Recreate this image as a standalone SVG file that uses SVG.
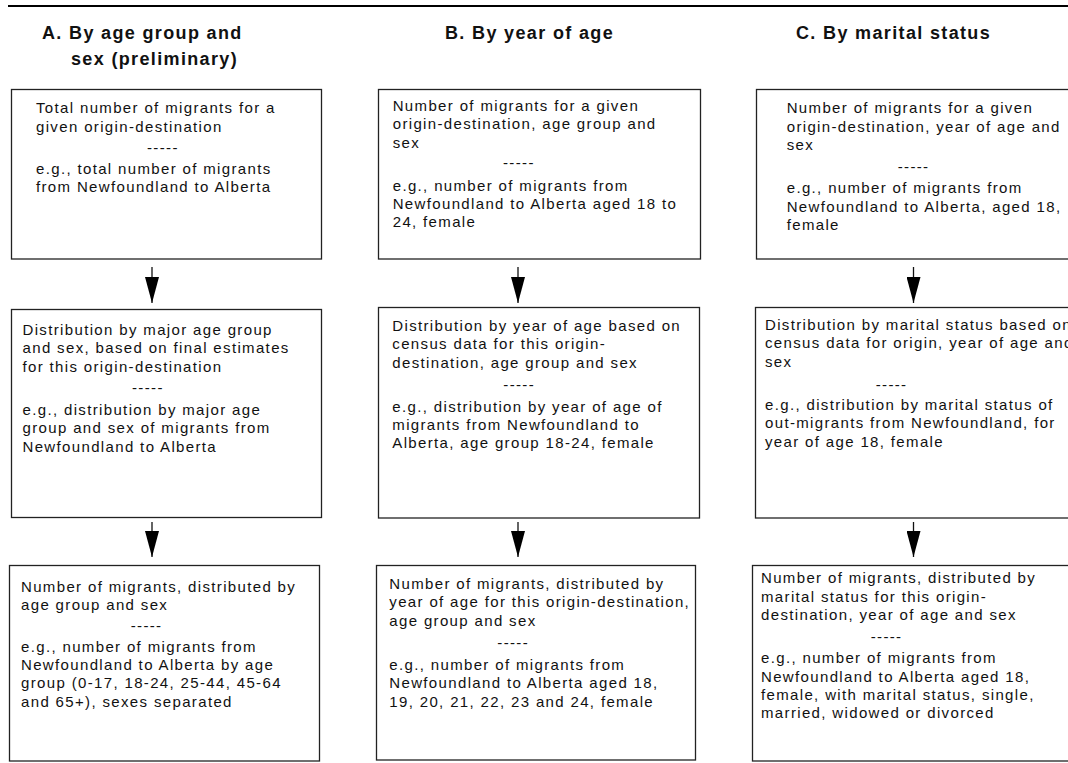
<svg xmlns="http://www.w3.org/2000/svg" width="1068" height="763" viewBox="0 0 1068 763">
<style>
  .box { fill: #ffffff; stroke: #222222; stroke-width: 1.3; }
  .hd { font-family: "Liberation Sans", Arial, sans-serif; font-size: 18px; font-weight: bold; letter-spacing: 1.35px; fill: #111111; }
  .tx { font-family: "Liberation Sans", Arial, sans-serif; font-size: 15px; letter-spacing: 1.35px; fill: #111111; }
  .conn { stroke: #111111; stroke-width: 1.3; fill: none; }
  .rule { stroke: #000000; stroke-width: 2.2; }
</style>
<defs>
  <marker id="ah" viewBox="0 0 26 14" refX="26" refY="7" markerWidth="26" markerHeight="14" markerUnits="userSpaceOnUse" orient="auto">
    <path d="M0,0 L26,7 L0,14 z" fill="#000000"/>
  </marker>
</defs>
<rect x="0" y="0" width="1068" height="763" fill="#ffffff"/>
<line class="rule" x1="8" y1="6" x2="1068" y2="6"/>

<g id="headings">
  <text class="hd" x="42" y="38.6">A. By age group and</text>
  <text class="hd" x="71" y="64.8">sex (preliminary)</text>
  <text class="hd" x="445" y="38.6">B. By year of age</text>
  <text class="hd" x="796" y="38.6">C. By marital status</text>
</g>

<g id="A1">
  <rect class="box" x="11.5" y="89.5" width="310" height="169.5"/>
  <text class="tx"><tspan x="36" y="113.3">Total number of migrants for a</tspan><tspan x="36" y="131.7">given origin-destination</tspan><tspan x="147" y="152.5">-----</tspan><tspan x="36" y="174">e.g., total number of migrants</tspan><tspan x="36" y="192">from Newfoundland to Alberta</tspan></text>
</g>
<g id="A2">
  <rect class="box" x="11.5" y="309.5" width="310" height="208"/>
  <text class="tx"><tspan x="22.5" y="335">Distribution by major age group</tspan><tspan x="22.5" y="353.3">and sex, based on final estimates</tspan><tspan x="22.5" y="371.7">for this origin-destination</tspan><tspan x="132" y="393">-----</tspan><tspan x="22.5" y="415">e.g., distribution by major age</tspan><tspan x="22.5" y="433.3">group and sex of migrants from</tspan><tspan x="22.5" y="451.7">Newfoundland to Alberta</tspan></text>
</g>
<g id="A3">
  <rect class="box" x="9.5" y="565.5" width="310" height="195.5"/>
  <text class="tx"><tspan x="21" y="591.7">Number of migrants, distributed by</tspan><tspan x="21" y="610">age group and sex</tspan><tspan x="130.7" y="631">-----</tspan><tspan x="21" y="651.7">e.g., number of migrants from</tspan><tspan x="21" y="670">Newfoundland to Alberta by age</tspan><tspan x="21" y="688.3">group (0-17, 18-24, 25-44, 45-64</tspan><tspan x="21" y="706.7">and 65+), sexes separated</tspan></text>
</g>

<g id="B1">
  <rect class="box" x="378.5" y="89.5" width="322" height="169.5"/>
  <text class="tx"><tspan x="392.7" y="111">Number of migrants for a given</tspan><tspan x="392.7" y="129.3">origin-destination, age group and</tspan><tspan x="392.7" y="147.7">sex</tspan><tspan x="503" y="167.5">-----</tspan><tspan x="392.7" y="190.7">e.g., number of migrants from</tspan><tspan x="392.7" y="209">Newfoundland to Alberta aged 18 to</tspan><tspan x="392.7" y="227.3">24, female</tspan></text>
</g>
<g id="B2">
  <rect class="box" x="378.5" y="307.5" width="321" height="210.5"/>
  <text class="tx"><tspan x="392.3" y="331">Distribution by year of age based on</tspan><tspan x="392.3" y="349.3">census data for this origin-</tspan><tspan x="392.3" y="367.7">destination, age group and sex</tspan><tspan x="503.3" y="389.5">-----</tspan><tspan x="392.3" y="411.7">e.g., distribution by year of age of</tspan><tspan x="392.3" y="430">migrants from Newfoundland to</tspan><tspan x="392.3" y="448.3">Alberta, age group 18-24, female</tspan></text>
</g>
<g id="B3">
  <rect class="box" x="376.5" y="565.5" width="319" height="194.5"/>
  <text class="tx"><tspan x="389.3" y="589">Number of migrants, distributed by</tspan><tspan x="389.3" y="607.3">year of age for this origin-destination,</tspan><tspan x="389.3" y="625.7">age group and sex</tspan><tspan x="497.3" y="648">-----</tspan><tspan x="389.3" y="670">e.g., number of migrants from</tspan><tspan x="389.3" y="688.3">Newfoundland to Alberta aged 18,</tspan><tspan x="389.3" y="706.7">19, 20, 21, 22, 23 and 24, female</tspan></text>
</g>

<g id="C1">
  <rect class="box" x="756.5" y="89.5" width="320" height="169.5"/>
  <text class="tx"><tspan x="786.7" y="113.3">Number of migrants for a given</tspan><tspan x="786.7" y="131.7">origin-destination, year of age and</tspan><tspan x="786.7" y="150">sex</tspan><tspan x="897.7" y="172">-----</tspan><tspan x="786.7" y="193.3">e.g., number of migrants from</tspan><tspan x="786.7" y="211.7">Newfoundland to Alberta, aged 18,</tspan><tspan x="786.7" y="230">female</tspan></text>
</g>
<g id="C2">
  <rect class="box" x="755.5" y="307.5" width="321" height="210.5"/>
  <text class="tx"><tspan x="765" y="330">Distribution by marital status based on</tspan><tspan x="765" y="348.3">census data for origin, year of age and</tspan><tspan x="765" y="366.7">sex</tspan><tspan x="875.7" y="389.5">-----</tspan><tspan x="765" y="410">e.g., distribution by marital status of</tspan><tspan x="765" y="428.3">out-migrants from Newfoundland, for</tspan><tspan x="765" y="446.7">year of age 18, female</tspan></text>
</g>
<g id="C3">
  <rect class="box" x="752.5" y="565.5" width="324" height="195.5"/>
  <text class="tx"><tspan x="761" y="583.3">Number of migrants, distributed by</tspan><tspan x="761" y="601.7">marital status for this origin-</tspan><tspan x="761" y="620">destination, year of age and sex</tspan><tspan x="870.7" y="642">-----</tspan><tspan x="761" y="663.3">e.g., number of migrants from</tspan><tspan x="761" y="681.7">Newfoundland to Alberta aged 18,</tspan><tspan x="761" y="700">female, with marital status, single,</tspan><tspan x="761" y="718.3">married, widowed or divorced</tspan></text>
</g>

<g id="connectors">
  <line class="conn" x1="152" y1="267" x2="152" y2="303" marker-end="url(#ah)"/>
  <line class="conn" x1="152" y1="522" x2="152" y2="557" marker-end="url(#ah)"/>
  <line class="conn" x1="518" y1="267" x2="518" y2="303" marker-end="url(#ah)"/>
  <line class="conn" x1="518" y1="522" x2="518" y2="557" marker-end="url(#ah)"/>
  <line class="conn" x1="913.5" y1="267" x2="913.5" y2="303" marker-end="url(#ah)"/>
  <line class="conn" x1="913.5" y1="522" x2="913.5" y2="557" marker-end="url(#ah)"/>
</g>
</svg>
